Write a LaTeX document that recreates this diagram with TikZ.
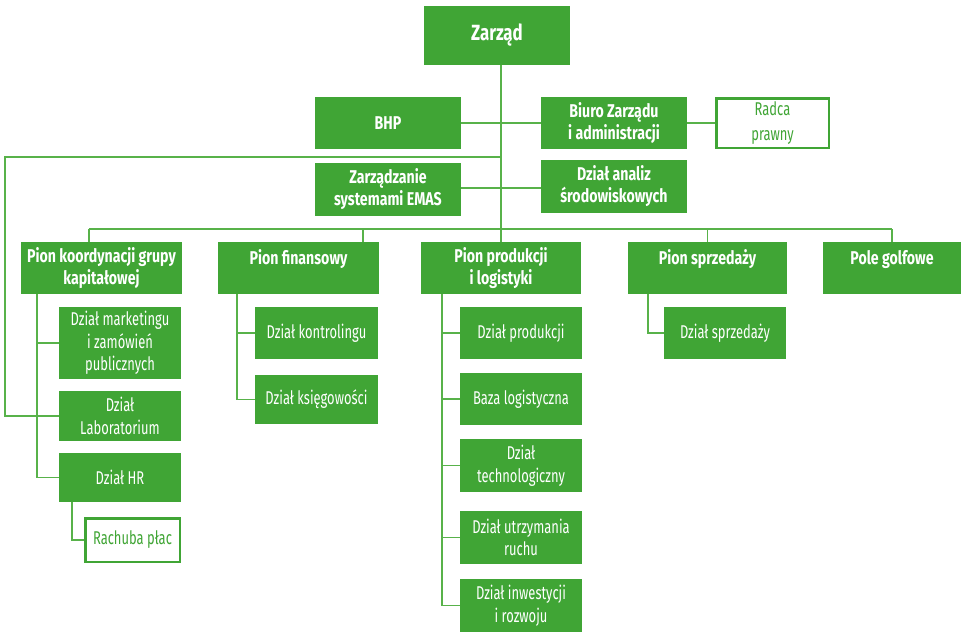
\documentclass[tikz,border=0pt]{standalone}
\usepackage{fontspec}
\setmainfont{Fira Sans}[FakeStretch=0.7, BoldFeatures={FakeStretch=0.765}]
\definecolor{zg}{RGB}{64,165,53}
\definecolor{zgl}{RGB}{88,178,74}
\tikzset{
  box/.style={fill=zg, text=white, align=center, inner sep=0pt,
    font=\fontsize{18.5}{22.5}\selectfont},
  head/.style={box, font=\bfseries\fontsize{18.5}{22}\selectfont},
  obox/.style={draw=zg, line width=2.5pt, fill=white, text=zg, align=center, inner sep=0pt,
    font=\fontsize{18.5}{25}\selectfont},
  conn/.style={draw=zgl, line width=1.5pt},
}
\begin{document}
\begin{tikzpicture}[x=1pt,y=-1pt]
\useasboundingbox (0,0) rectangle (961,633);
% top level
\node[head, minimum width=146, minimum height=59, font=\bfseries\fontsize{22}{26}\selectfont] (zarzad) at (497,35.5) {Zarząd};
\node[head, minimum width=146, minimum height=52] (bhp) at (388,123) {BHP};
\node[head, minimum width=146, minimum height=52] (biuro) at (614,123) {Biuro Zarządu\\i administracji};
\node[obox, minimum width=112.5, minimum height=49.5] (radca) at (772.5,123) {Radca\\prawny};
\node[head, minimum width=146, minimum height=53] (emas) at (388,189.5) {Zarządzanie\\systemami EMAS};
\node[head, minimum width=146, minimum height=53] (analiz) at (614,186.5) {Dział analiz\\środowiskowych};
% divisions
\node[head, minimum width=161, minimum height=52] (pkoord) at (101.5,268) {Pion koordynacji grupy\\kapitałowej};
\node[head, minimum width=161, minimum height=52] (pfin) at (298.5,268) {Pion finansowy\\\mbox{}};
\node[head, minimum width=160, minimum height=52] (pprod) at (501,268) {Pion produkcji\\i logistyki};
\node[head, minimum width=159, minimum height=52] (psprz) at (707.5,268) {Pion sprzedaży\\\mbox{}};
\node[head, minimum width=138, minimum height=52] (pole) at (892,268) {Pole golfowe\\\mbox{}};
% koordynacja
\node[box, minimum width=122, minimum height=72] (mark) at (120,343) {Dział marketingu\\i zamówień\\publicznych};
\node[box, minimum width=122, minimum height=50] (lab) at (120,416) {Dział\\Laboratorium};
\node[box, minimum width=122, minimum height=49] (hr) at (120,477.5) {Dział HR};
\node[obox, minimum width=94.5, minimum height=43.5] (rach) at (132.5,540) {Rachuba płac};
% finanse
\node[box, minimum width=123, minimum height=52] (kontr) at (316.5,333) {Dział kontrolingu};
\node[box, minimum width=123, minimum height=49] (ksieg) at (316.5,399.5) {Dział księgowości};
% produkcja
\node[box, minimum width=122, minimum height=52] (prod) at (521,333) {Dział produkcji};
\node[box, minimum width=122, minimum height=52] (baza) at (521,399) {Baza logistyczna};
\node[box, minimum width=122, minimum height=53] (tech) at (521,465.5) {Dział\\technologiczny};
\node[box, minimum width=122, minimum height=53] (utrz) at (521,537.5) {Dział utrzymania\\ruchu};
\node[box, minimum width=122, minimum height=53] (inw) at (521,605.5) {Dział inwestycji\\i rozwoju};
% sprzedaz
\node[box, minimum width=122, minimum height=52] (sprz) at (725,333) {Dział sprzedaży};
% coordinates
\coordinate (trunkT) at (501,65);
\coordinate (bus) at (501,229);
\coordinate (loop) at (501,157);
\coordinate (loopL) at (5,157);
% connectors
\draw[conn] (trunkT) -- (bus);
\draw[conn] (bhp.east) -- (biuro.west);
\draw[conn] (biuro.east) -- (radca.west);
\draw[conn] (emas.east |- 0,188) -- (analiz.west |- 0,188);
\draw[conn] (loop) -- (loopL) -- (loopL |- lab.west) -- (lab.west);
\draw[conn] (bus -| pkoord.north west) ++(68,0) coordinate (b1) -- (bus -| pole.north);
\draw[conn] (b1) -- (b1 |- pkoord.north);
\draw[conn] (bus -| 363,0) -- (pfin.north -| 363,0);
\draw[conn] (bus) -- (pprod.north);
\draw[conn] (bus -| psprz.north) -- (psprz.north);
\draw[conn] (bus -| pole.north) -- (pole.north);
% koordynacja branch
\draw[conn] (pkoord.south -| 37,0) -- (hr.west -| 37,0) -- (hr.west);
\draw[conn] (mark.west -| 37,0) -- (mark.west);
\draw[conn] (lab.west -| 37,0) -- (lab.west);
\draw[conn] (hr.south -| 72,0) -- (rach.west -| 72,0) -- (rach.west);
% finanse branch
\draw[conn] (pfin.south -| 237,0) -- (ksieg.west -| 237,0) -- (ksieg.west);
\draw[conn] (kontr.west -| 237,0) -- (kontr.west);
% produkcja branch
\draw[conn] (pprod.south -| 442,0) -- (inw.west -| 442,0) -- (inw.west);
\draw[conn] (prod.west -| 442,0) -- (prod.west);
\draw[conn] (baza.west -| 442,0) -- (baza.west);
\draw[conn] (tech.west -| 442,0) -- (tech.west);
\draw[conn] (utrz.west -| 442,0) -- (utrz.west);
% sprzedaz branch
\draw[conn] (psprz.south -| 648,0) -- (sprz.west -| 648,0) -- (sprz.west);
\end{tikzpicture}
\end{document}
